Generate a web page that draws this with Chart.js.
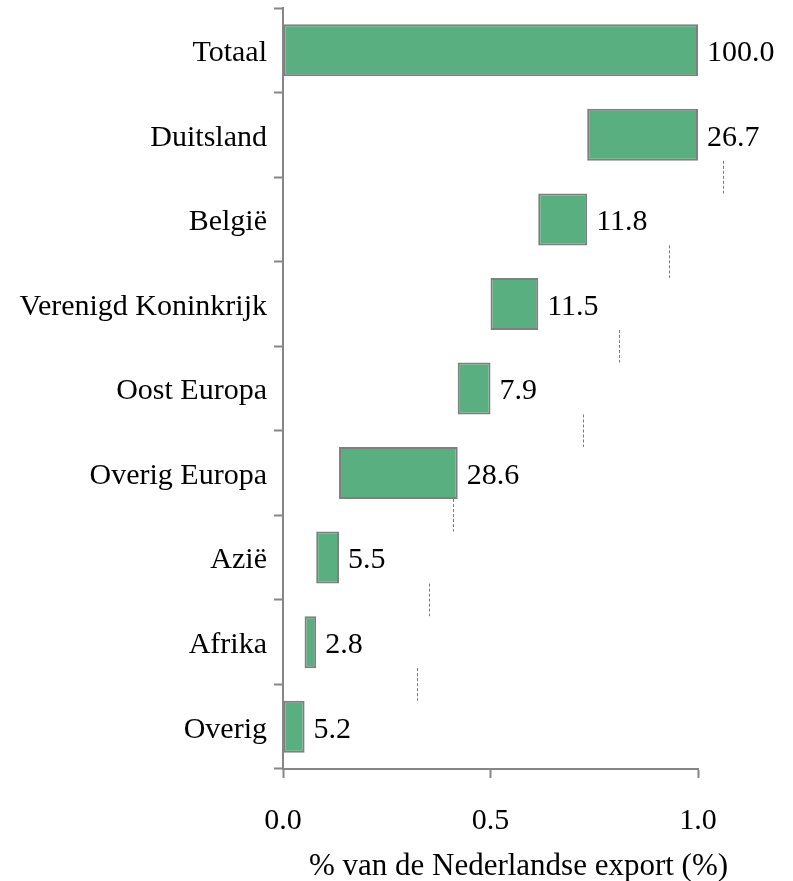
<!DOCTYPE html>
<html>
<head>
<meta charset="utf-8">
<script src="https://cdn.jsdelivr.net/npm/chart.js@4/dist/chart.umd.min.js"></script>
<style>
    html, body { margin: 0; padding: 0; background: #ffffff; }
    #wrap { width: 793px; height: 881px; }
</style>
</head>
<body>
<div id="wrap"><canvas id="exportChart"></canvas></div>
<script>
const categorieen = ['Totaal', 'Duitsland', 'België', 'Verenigd Koninkrijk', 'Oost Europa', 'Overig Europa', 'Azië', 'Afrika', 'Overig']
const aandelen = [100.0, 26.7, 11.8, 11.5, 7.9, 28.6, 5.5, 2.8, 5.2]
const xTicks = [0.0, 0.5, 1.0]
// x-posities van de gestippelde verbindingslijnen tussen opeenvolgende landen (Duitsland -> Overig)
const verbindingX = [1.06, 0.931, 0.81, 0.724, 0.409, 0.352, 0.324]
const asTitel = '% van de Nederlandse export (%)'

const lettertype = "'Liberation Serif', 'Times New Roman', serif"
const grijs = '#868686'

// watervalbalken: totaal vanaf 0, daarna aflopend vanaf 1
function maakBalken() {
    const balken = []
    let rest = 1
    aandelen.forEach((waarde, i) => {
        if (i === 0) {
            balken.push([0, waarde / 100])
        } else {
            const start = rest - waarde / 100
            balken.push([Math.max(0, start), rest])
            rest = start
        }
    })
    return balken
}

const extraTekenen = {
    id: 'extraTekenen',
    afterDatasetsDraw(chart) {
        const ctx = chart.ctx
        const x = chart.scales.x
        const meta = chart.getDatasetMeta(0)

        ctx.save()
        ctx.font = `30px ${lettertype}`
        ctx.fillStyle = '#000000'
        ctx.textAlign = 'left'
        ctx.textBaseline = 'middle'
        meta.data.forEach((bar, i) => {
            const eind = chart.data.datasets[0].data[i][1]
            ctx.fillText(aandelen[i].toFixed(1), x.getPixelForValue(eind) + 9, bar.y + 3)
        })

        ctx.strokeStyle = '#7a7a7a'
        ctx.lineWidth = 1
        ctx.setLineDash([3, 2])
        verbindingX.forEach((waarde, i) => {
            const boven = meta.data[i + 1]
            const onder = meta.data[i + 2]
            const px = Math.round(x.getPixelForValue(waarde)) + 0.5
            ctx.beginPath()
            ctx.moveTo(px, boven.y + boven.height / 2)
            ctx.lineTo(px, onder.y - onder.height / 2)
            ctx.stroke()
        })
        ctx.setLineDash([])

        ctx.font = `31px ${lettertype}`
        ctx.textAlign = 'center'
        ctx.fillText(asTitel, (x.left + x.right) / 2 + 28, 867)
        ctx.restore()
    }
}

new Chart(document.getElementById('exportChart'), {
    type: 'bar',
    data: {
        labels: categorieen,
        datasets: [{
            data: maakBalken(),
            backgroundColor: '#5aaf80',
            borderColor: '#7f7f7f',
            borderWidth: 2,
            borderSkipped: false,
            barPercentage: 0.615,
            categoryPercentage: 1
        }]
    },
    options: {
        indexAxis: 'y',
        responsive: true,
        maintainAspectRatio: false,
        animation: false,
        layout: {
            padding: { top: 8, right: 95, left: 0, bottom: 0 }
        },
        scales: {
            x: {
                min: 0,
                max: 1,
                afterBuildTicks: (as) => { as.ticks = xTicks.map(v => ({ value: v })) },
                afterFit: (as) => { as.height = 112 },
                ticks: {
                    color: '#000000',
                    font: { family: lettertype, size: 30 },
                    padding: 25,
                    maxRotation: 0,
                    callback: (v) => Number(v).toFixed(1)
                },
                grid: {
                    drawOnChartArea: false,
                    drawTicks: true,
                    tickLength: 9,
                    tickColor: grijs,
                    tickWidth: 2
                },
                border: { color: grijs, width: 2 }
            },
            y: {
                afterFit: (as) => {
                    as.width = 283
                    as.paddingTop = 0
                    as.paddingBottom = 0
                },
                ticks: {
                    color: '#000000',
                    font: { family: lettertype, size: 30 },
                    padding: 7,
                    labelOffset: 3
                },
                grid: {
                    offset: true,
                    drawOnChartArea: false,
                    drawTicks: true,
                    tickLength: 9,
                    tickColor: grijs,
                    tickWidth: 2
                },
                border: { color: grijs, width: 2 }
            }
        },
        plugins: {
            legend: { display: false },
            tooltip: { enabled: false }
        }
    },
    plugins: [extraTekenen]
})
</script>
</body>
</html>
